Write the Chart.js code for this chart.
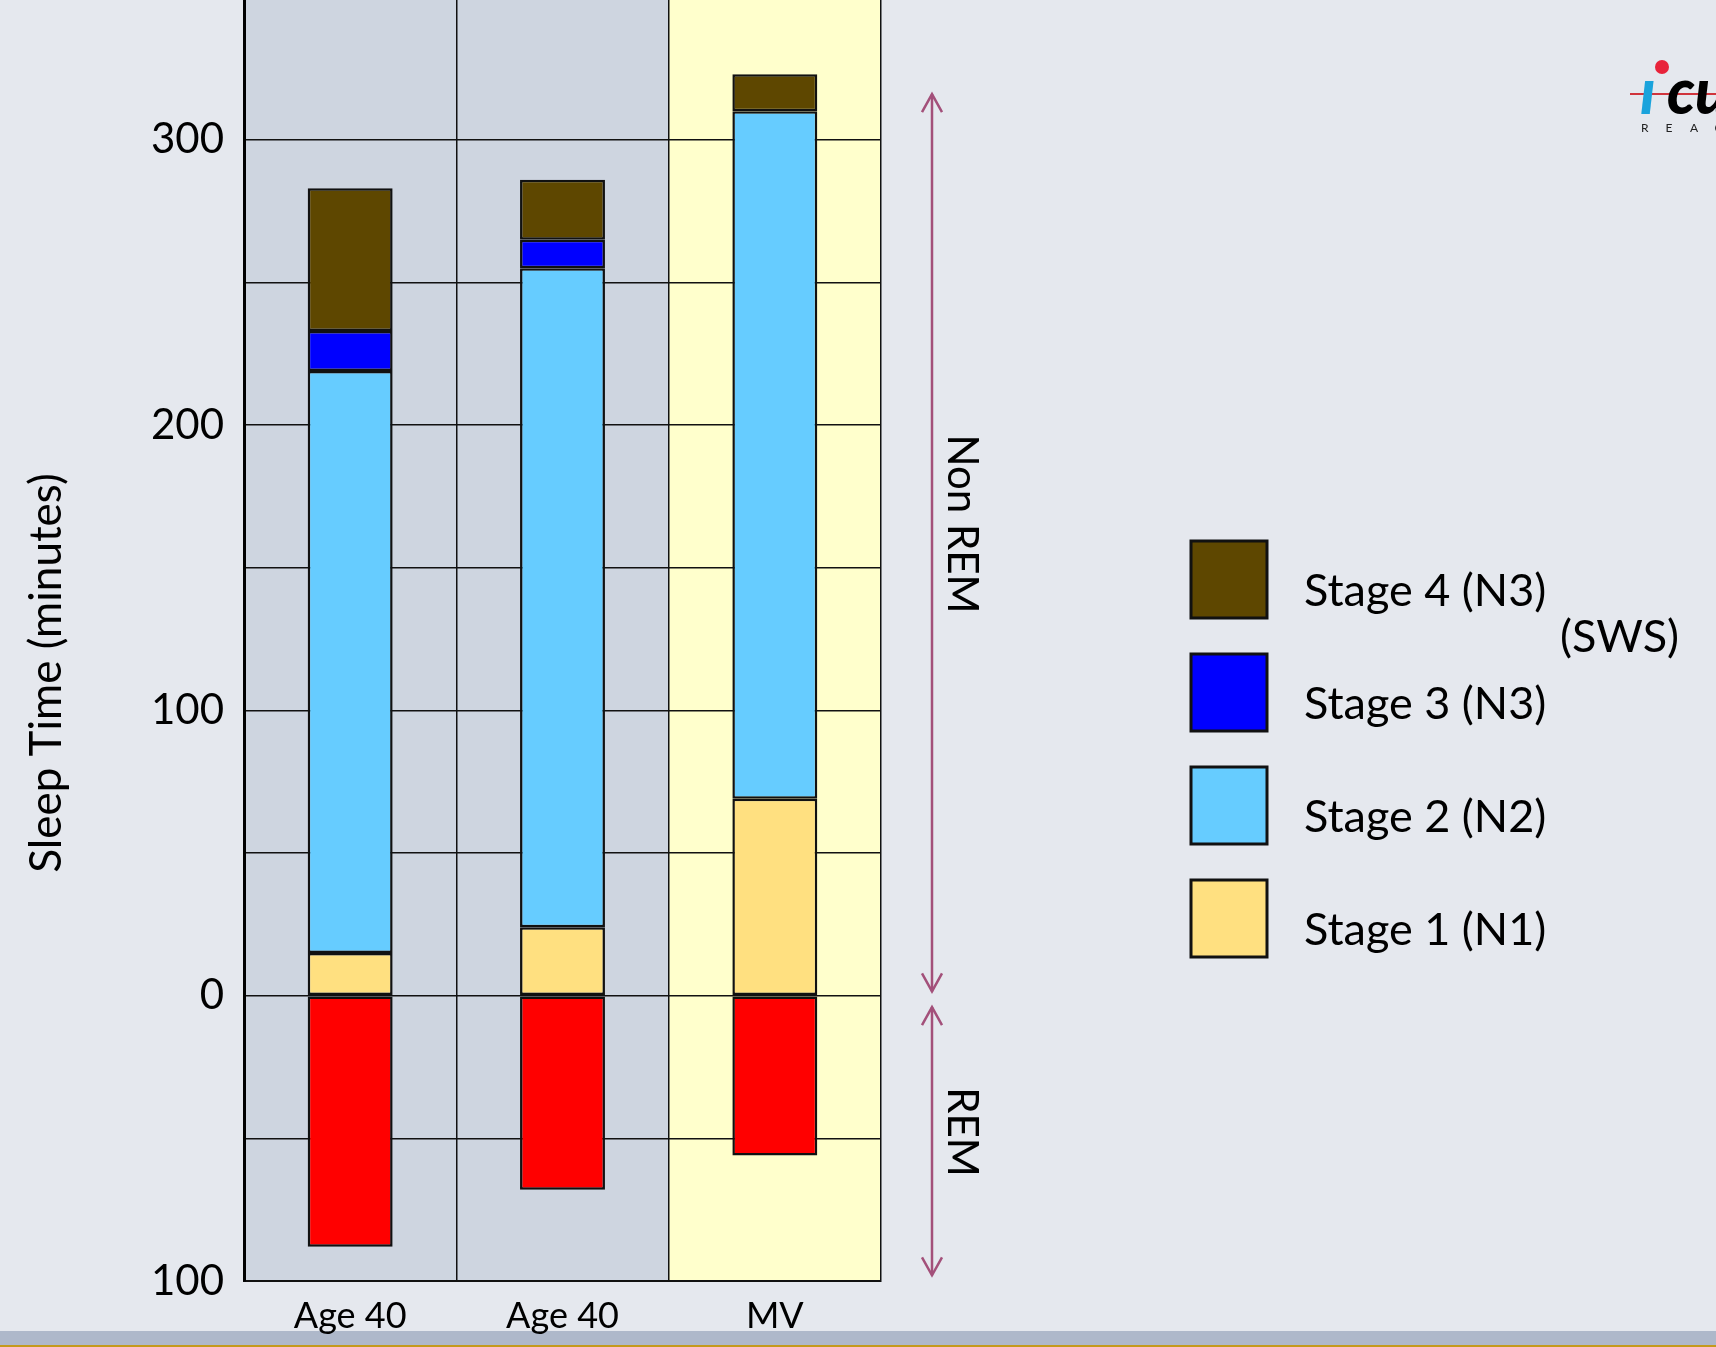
<!DOCTYPE html>
<html>
<head>
<meta charset="utf-8">
<script src="https://cdn.jsdelivr.net/npm/chart.js@4.4.1/dist/chart.umd.min.js"></script>
<style>
  html, body { margin: 0; padding: 0; background: #e5e8ee; overflow: hidden; }
  #wrap { width: 1716px; height: 1347px; position: relative; }
</style>
</head>
<body>
<div id="wrap"><canvas id="myChart"></canvas></div>
<script>
// categories and values (minutes), REM drawn below zero
const groups = ['Age 40', 'Age 40', 'MV'];
const stage1 = [15, 24, 69];
const stage2 = [204, 231, 241];
const stage3 = [14, 10, 0];
const stage4 = [50, 21, 13];
const rem = [-88, -68, -56];

const yTicks = [-100, -50, 0, 50, 100, 150, 200, 250, 300];

const stageLabels = ['Stage 1 (N1)', 'Stage 2 (N2)', 'Stage 3 (N3)', 'Stage 4 (N3)'];
const stageColors = ['#ffe080', '#66ccff', '#0000ff', '#5e4700'];
const remColor = '#ff0000';
const groupBg = ['#ced5e0', '#ced5e0', '#ffffcc'];

const FONT = 'Lato, "Open Sans", sans-serif';

function ds(label, data, color) {
  return {
    label: label,
    data: data,
    backgroundColor: color,
    borderColor: '#111',
    borderWidth: 2.5,
    borderSkipped: false,
    barPercentage: 0.40,
    categoryPercentage: 1.0
  };
}

const datasets = [
  ds('REM', rem, remColor),
  ds(stageLabels[0], stage1, stageColors[0]),
  ds(stageLabels[1], stage2, stageColors[1]),
  ds(stageLabels[2], stage3, stageColors[2]),
  ds(stageLabels[3], stage4, stageColors[3])
];

// page background, group backgrounds and footer band
const backPlugin = {
  id: 'back',
  beforeDraw(chart) {
    const ctx = chart.ctx;
    const a = chart.chartArea;
    ctx.save();
    ctx.fillStyle = '#e5e8ee';
    ctx.fillRect(0, 0, chart.width, chart.height);
    const w = (a.right - a.left) / groups.length;
    groupBg.forEach((c, i) => {
      ctx.fillStyle = c;
      ctx.fillRect(a.left + i * w, a.top, w, a.bottom - a.top);
    });
    ctx.fillStyle = '#aeb8ca';
    ctx.fillRect(0, 1331, chart.width, 14);
    ctx.fillStyle = '#c49a1c';
    ctx.fillRect(0, 1345, chart.width, 2);
    ctx.restore();
  }
};

function arrowHead(ctx, x, y, dir) {
  ctx.beginPath();
  ctx.moveTo(x - 10, y + dir * 18);
  ctx.lineTo(x, y);
  ctx.lineTo(x + 10, y + dir * 18);
  ctx.stroke();
}

function dblArrow(ctx, x, y1, y2) {
  ctx.beginPath();
  ctx.moveTo(x, y1);
  ctx.lineTo(x, y2);
  ctx.stroke();
  arrowHead(ctx, x, y1, 1);
  arrowHead(ctx, x, y2, -1);
}

function vText(ctx, txt, x, y, rot) {
  ctx.save();
  ctx.translate(x, y);
  ctx.rotate(rot);
  ctx.fillText(txt, 0, 0);
  ctx.restore();
}

const annoPlugin = {
  id: 'anno',
  afterDraw(chart) {
    const ctx = chart.ctx;
    const y = chart.scales.y;
    ctx.save();

    // y axis title
    ctx.fillStyle = '#000';
    ctx.font = '44px ' + FONT;
    ctx.textAlign = 'center';
    ctx.textBaseline = 'middle';
    vText(ctx, 'Sleep Time (minutes)', 47, 673, -Math.PI / 2);

    // Non REM / REM arrows
    ctx.strokeStyle = '#a3507a';
    ctx.lineWidth = 2.5;
    dblArrow(ctx, 932, y.getPixelForValue(316), y.getPixelForValue(1.5));
    dblArrow(ctx, 932, y.getPixelForValue(-4), y.getPixelForValue(-98));
    ctx.font = '42px ' + FONT;
    vText(ctx, 'Non REM', 962, 524, Math.PI / 2);
    vText(ctx, 'REM', 962, 1132, Math.PI / 2);

    // legend (stages, top to bottom)
    ctx.textAlign = 'left';
    ctx.textBaseline = 'alphabetic';
    ctx.font = '45px ' + FONT;
    for (let i = 0; i < 4; i++) {
      const k = 3 - i;
      const top = 541 + i * 113;
      ctx.fillStyle = stageColors[k];
      ctx.fillRect(1191, top, 76, 77);
      ctx.strokeStyle = '#111';
      ctx.lineWidth = 3;
      ctx.strokeRect(1191, top, 76, 77);
      ctx.fillStyle = '#000';
      ctx.fillText(stageLabels[k], 1304, top + 65);
    }
    ctx.fillText('(SWS)', 1560, 652);

    // logo, cut at the right edge
    ctx.strokeStyle = '#d0343c';
    ctx.lineWidth = 2;
    ctx.beginPath();
    ctx.moveTo(1630, 94);
    ctx.lineTo(1716, 94);
    ctx.stroke();
    ctx.font = 'italic 900 62px ' + FONT;
    ctx.fillStyle = '#1aa3dc';
    ctx.fillText('ı', 1640, 114);
    ctx.fillStyle = '#000';
    ctx.fillText('cu', 1667, 114);
    ctx.fillStyle = '#e8233a';
    ctx.beginPath();
    ctx.arc(1662, 67, 7, 0, Math.PI * 2);
    ctx.fill();
    ctx.fillStyle = '#222';
    ctx.font = '12px ' + FONT;
    ['R', 'E', 'A', 'C'].forEach((c, i) => ctx.fillText(c, 1641 + i * 24.5, 132));

    ctx.restore();
  }
};

const ctx = document.getElementById('myChart').getContext('2d');
const myChart = new Chart(ctx, {
  type: 'bar',
  data: { labels: groups, datasets: datasets },
  options: {
    responsive: true,
    maintainAspectRatio: false,
    animation: false,
    layout: { padding: { left: 0, top: 0, right: 835, bottom: 0 } },
    plugins: {
      legend: { display: false },
      tooltip: { enabled: false }
    },
    scales: {
      x: {
        stacked: true,
        grid: { color: '#111', lineWidth: 1.5, drawTicks: false, offset: true },
        border: { display: true, color: '#111', width: 2 },
        ticks: { color: '#000', font: { family: FONT, size: 36 }, padding: 14 },
        afterFit(scale) { scale.height = 66; }
      },
      y: {
        stacked: true,
        min: -100,
        max: 349,
        grid: { color: '#111', lineWidth: 1.5, drawTicks: false },
        border: { display: true, color: '#000', width: 3 },
        ticks: {
          color: '#000',
          padding: 20,
          font: { family: FONT, size: 42 },
          callback: v => (v % 100 === 0 ? String(Math.abs(v)) : '')
        },
        afterBuildTicks(scale) {
          scale.ticks = yTicks.map(v => ({ value: v }));
        },
        afterFit(scale) {
          scale.width = 244;
          scale.paddingTop = 0;
        }
      }
    }
  },
  plugins: [backPlugin, annoPlugin]
});
</script>
</body>
</html>
